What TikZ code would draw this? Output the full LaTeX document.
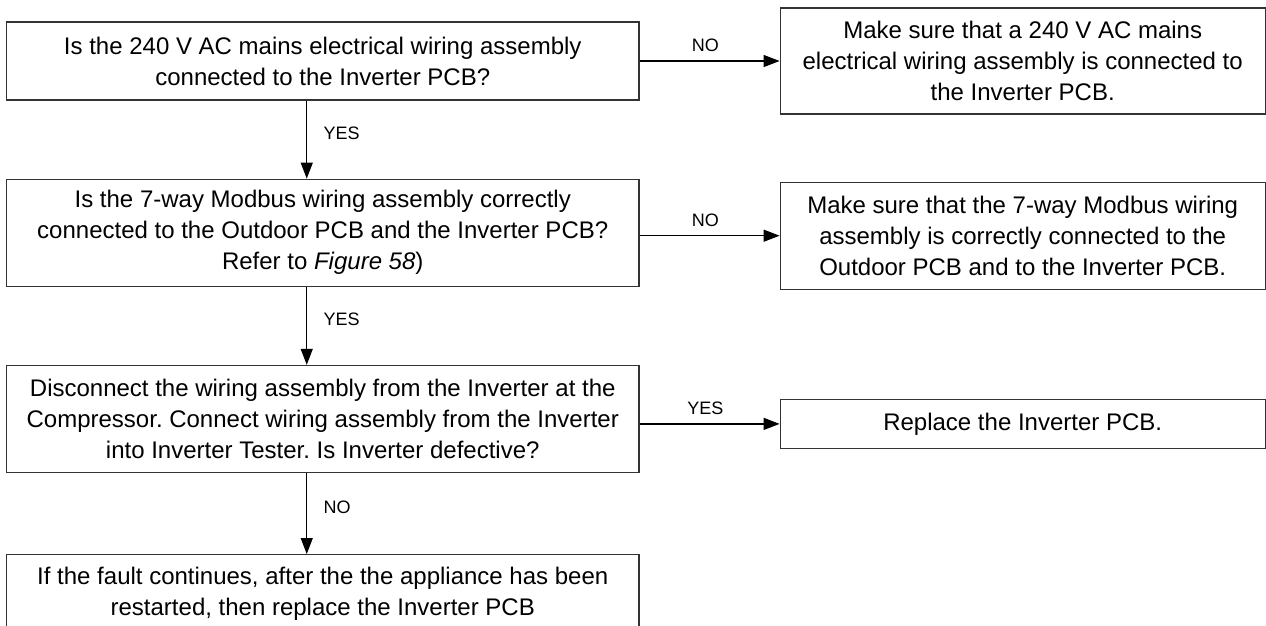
\documentclass[tikz,border=0pt]{standalone}
\usepackage{fontspec}
\setmainfont{Liberation Sans}
\usetikzlibrary{arrows.meta, positioning}
\frenchspacing

\begin{document}
\begin{tikzpicture}[
    x=1pt, y=1pt,
    font=\fontsize{24}{31}\selectfont,
    q/.style={rectangle, draw=black!80, line width=1.2pt, align=center,
              minimum width=632.5pt, minimum height=#1},
    act/.style={rectangle, draw=black!80, line width=1.2pt, align=center,
                minimum width=485pt, minimum height=#1},
    arr/.style={-{Triangle[length=16pt, width=12pt]}, line width=1.2pt, black},
    lbl/.style={font=\fontsize{18}{22}\selectfont, text=black},
    node distance=78pt and 140pt
  ]

  \useasboundingbox (0,0) rectangle (1266,-625);

  \node[q=78pt] (q1) at (322.75,-61)
    {Is the 240 V AC mains electrical wiring assembly\\connected to the Inverter PCB?};
  \node[q=107pt, below=of q1] (q2)
    {Is the 7-way Modbus wiring assembly correctly\\connected to the Outdoor PCB and the Inverter PCB?\\Refer to \textit{Figure 58})};
  \node[q=107pt, below=of q2] (q3)
    {Disconnect the wiring assembly from the Inverter at the\\Compressor. Connect wiring assembly from the Inverter\\into Inverter Tester. Is Inverter defective?};
  \node[q=78pt, below=81pt of q3] (q4)
    {If the fault continues, after the the appliance has been\\restarted, then replace the Inverter PCB};

  \node[act=106pt, right=of q1] (a1)
    {Make sure that a 240 V AC mains\\electrical wiring assembly is connected to\\the Inverter PCB.};
  \node[act=107pt, right=of q2, yshift=-3pt] (a2)
    {Make sure that the 7-way Modbus wiring\\assembly is correctly connected to the\\Outdoor PCB and to the Inverter PCB.};
  \node[act=49pt, right=of q3, yshift=-5pt] (a3) {Replace the Inverter PCB.};

  \foreach \a/\b/\t in {q1/q2/YES, q2/q3/YES, q3/q4/NO}
    \draw[arr] ([xshift=-16pt]\a.south) -- ([xshift=-16pt]\b.north)
      node[lbl, pos=0.42, right=13pt] {\t};

  \foreach \a/\b/\t in {q1/a1/NO, q2/a2/NO, q3/a3/YES}
    \draw[arr] (\b.west -| \a.east) -- (\b.west)
      node[lbl, pos=0.47, above=5pt] {\t};

\end{tikzpicture}
\end{document}
